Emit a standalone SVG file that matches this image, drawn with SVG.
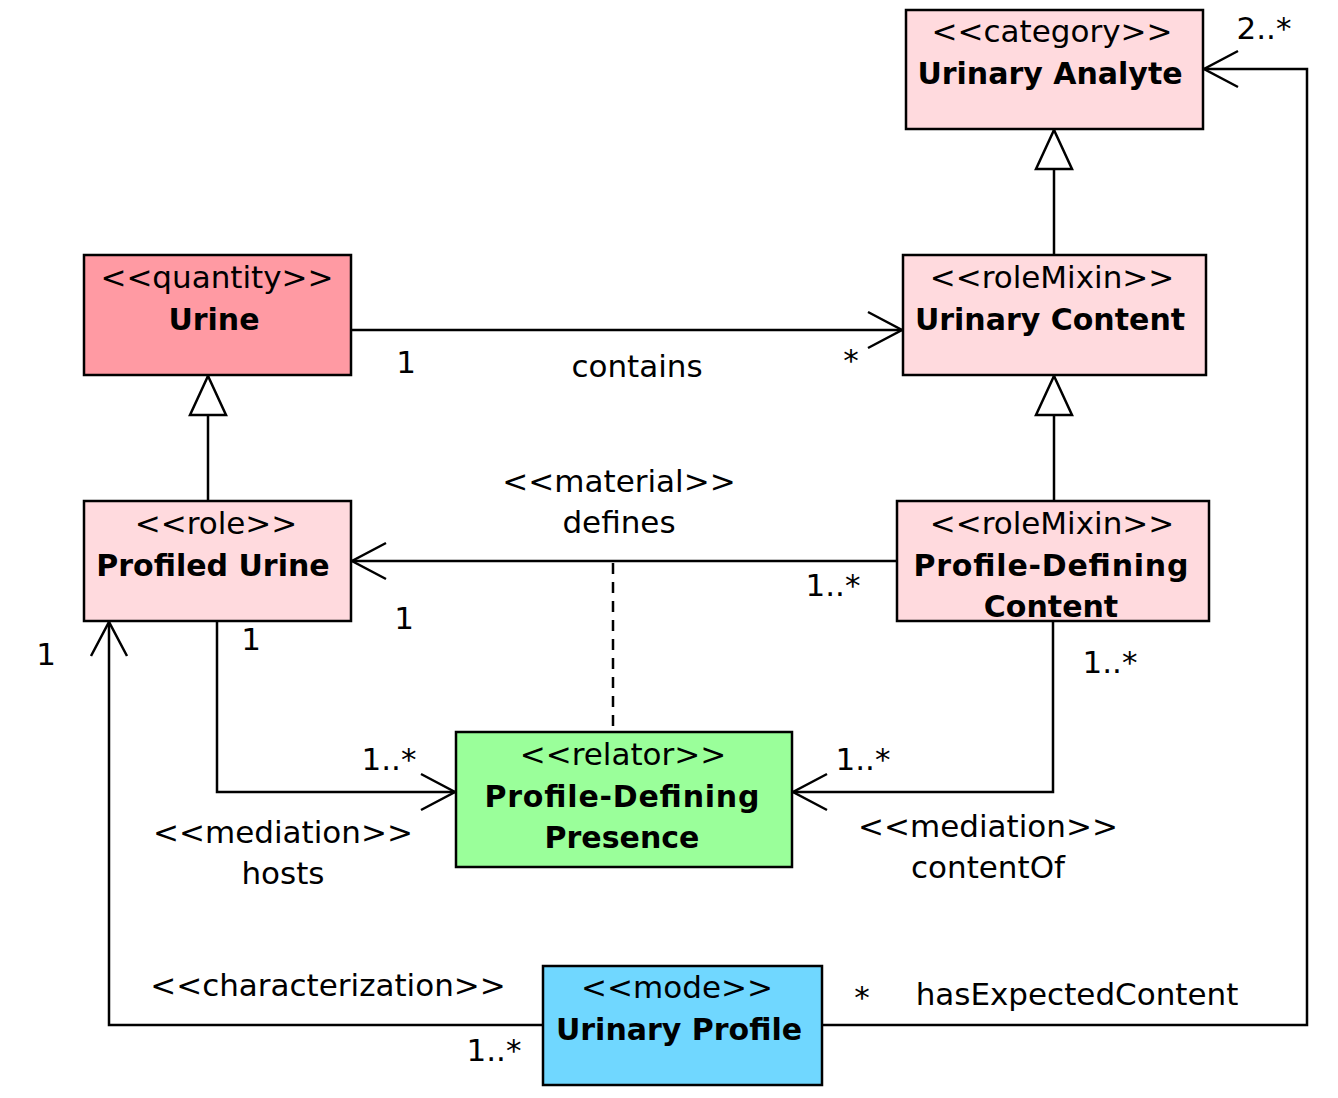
<svg xmlns="http://www.w3.org/2000/svg" width="1338" height="1098" viewBox="0 0 1338 1098">
<style>
text{font-family:"DejaVu Sans","Verdana",sans-serif;font-size:31px;fill:#000}
.c{text-anchor:middle}
.b{font-weight:bold;font-size:30px}
.box{stroke:#000;stroke-width:2.5}
.ln{fill:none;stroke:#000;stroke-width:2.5}
.dash{fill:none;stroke:#000;stroke-width:2.5;stroke-dasharray:11 8}
.pink{fill:#FFDADE}
.red{fill:#FF9AA3}
.green{fill:#9AFF9A}
.blue{fill:#70D7FF}
</style>
<defs>
<marker id="open" viewBox="0 0 40 40" refX="36" refY="20" markerWidth="40" markerHeight="40" markerUnits="userSpaceOnUse" orient="auto">
<path d="M2,2 L36,20 L2,38" fill="none" stroke="#000" stroke-width="2.5"/>
</marker>
<marker id="gen" viewBox="0 0 44 44" refX="41" refY="22" markerWidth="44" markerHeight="44" markerUnits="userSpaceOnUse" orient="auto">
<path d="M2,4 L41,22 L2,40 Z" fill="#fff" stroke="#000" stroke-width="2.5"/>
</marker>
</defs>

<g id="connectors">
<path class="ln" d="M1054,255 V130" marker-end="url(#gen)"/>
<path class="ln" d="M1054,501 V376" marker-end="url(#gen)"/>
<path class="ln" d="M208,501 V376" marker-end="url(#gen)"/>
<path class="ln" d="M352,330 H902" marker-end="url(#open)"/>
<path class="ln" d="M896,561 H352" marker-end="url(#open)"/>
<path class="dash" d="M613,563 V732"/>
<path class="ln" d="M217,622 V792 H455" marker-end="url(#open)"/>
<path class="ln" d="M1053,622 V792 H793" marker-end="url(#open)"/>
<path class="ln" d="M542,1025 H109 V622" marker-end="url(#open)"/>
<path class="ln" d="M823,1025 H1307 V69 H1204" marker-end="url(#open)"/>

<text x="406" y="373" class="c">1</text>
<text x="637" y="377" class="c">contains</text>
<text x="851" y="371" class="c">*</text>
<text x="619" y="492" class="c">&lt;&lt;material&gt;&gt;</text>
<text x="619" y="533" class="c">defines</text>
<text x="833" y="596" class="c">1..*</text>
<text x="404" y="629" class="c">1</text>
<text x="251" y="650" class="c">1</text>
<text x="46" y="665" class="c">1</text>
<text x="389" y="770" class="c">1..*</text>
<text x="283" y="843" class="c">&lt;&lt;mediation&gt;&gt;</text>
<text x="283" y="884" class="c">hosts</text>
<text x="1110" y="673" class="c">1..*</text>
<text x="863" y="770" class="c">1..*</text>
<text x="988" y="837" class="c">&lt;&lt;mediation&gt;&gt;</text>
<text x="988" y="878" class="c">contentOf</text>
<text x="328" y="996" class="c">&lt;&lt;characterization&gt;&gt;</text>
<text x="494" y="1061" class="c">1..*</text>
<text x="862" y="1008" class="c">*</text>
<text x="1077" y="1005" class="c">hasExpectedContent</text>
<text x="1264" y="39" class="c">2..*</text>
</g>

<g id="urinary-analyte">
<rect class="box pink" x="906" y="10" width="297" height="119"/>
<text x="1052" y="42" class="c">&lt;&lt;category&gt;&gt;</text>
<text x="1050" y="84" class="c b">Urinary Analyte</text>
</g>

<g id="urine">
<rect class="box red" x="84" y="255" width="267" height="120"/>
<text x="217" y="288" class="c">&lt;&lt;quantity&gt;&gt;</text>
<text x="214" y="330" class="c b">Urine</text>
</g>

<g id="urinary-content">
<rect class="box pink" x="903" y="255" width="303" height="120"/>
<text x="1052" y="288" class="c">&lt;&lt;roleMixin&gt;&gt;</text>
<text x="1050" y="330" class="c b">Urinary Content</text>
</g>

<g id="profiled-urine">
<rect class="box pink" x="84" y="501" width="267" height="120"/>
<text x="216" y="534" class="c">&lt;&lt;role&gt;&gt;</text>
<text x="213" y="576" class="c b">Profiled Urine</text>
</g>

<g id="profile-defining-content">
<rect class="box pink" x="897" y="501" width="312" height="120"/>
<text x="1052" y="534" class="c">&lt;&lt;roleMixin&gt;&gt;</text>
<text x="1051" y="576" class="c b" textLength="275" lengthAdjust="spacing">Profile-Defining</text>
<text x="1051" y="617" class="c b">Content</text>
</g>

<g id="profile-defining-presence">
<rect class="box green" x="456" y="732" width="336" height="135"/>
<text x="623" y="765" class="c">&lt;&lt;relator&gt;&gt;</text>
<text x="622" y="807" class="c b" textLength="275" lengthAdjust="spacing">Profile-Defining</text>
<text x="622" y="848" class="c b">Presence</text>
</g>

<g id="urinary-profile">
<rect class="box blue" x="543" y="966" width="279" height="119"/>
<text x="677" y="998" class="c">&lt;&lt;mode&gt;&gt;</text>
<text x="679" y="1040" class="c b">Urinary Profile</text>
</g>
</svg>
